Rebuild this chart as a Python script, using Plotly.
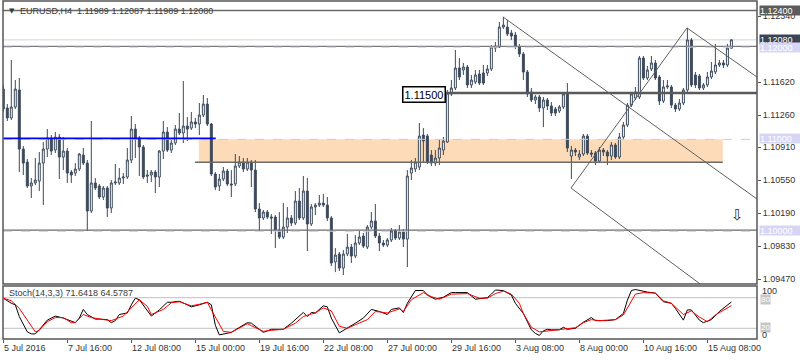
import plotly.graph_objects as go

# ---------------- data ----------------
title_text = "EURUSD,H4  1.11989 1.12087 1.11989 1.12080"
stoch_label = "Stoch(14,3,3) 71.6418 64.5787"

opens = [1.11544, 1.11337, 1.11228, 1.11348, 1.11533, 1.10889, 1.10747, 1.10486, 1.10519, 1.10540,
         1.10736, 1.10889, 1.11009, 1.10878, 1.11020, 1.10802, 1.10867, 1.10638, 1.10627, 1.10671,
         1.10824, 1.10736, 1.10213, 1.10519, 1.10486, 1.10366, 1.10464, 1.10246, 1.10519, 1.10519,
         1.10573, 1.10584, 1.10769, 1.11107, 1.11009, 1.10911, 1.10606, 1.10606, 1.10638, 1.10584,
         1.10867, 1.11075, 1.10878, 1.10955, 1.11107, 1.11064, 1.11140, 1.11118, 1.11184, 1.11162,
         1.11260, 1.11380, 1.11162, 1.10617, 1.10486, 1.10562, 1.10649, 1.10508, 1.10508, 1.10704,
         1.10747, 1.10671, 1.10747, 1.10660, 1.10235, 1.10137, 1.10202, 1.10148, 1.10148, 1.10006,
         1.09929, 1.10038, 1.10137, 1.10082, 1.10322, 1.10137, 1.10431, 1.10071, 1.10257, 1.10278,
         1.10300, 1.10278, 1.10137, 1.09657, 1.09744, 1.09591, 1.09744, 1.09820, 1.09722, 1.09864,
         1.09940, 1.09820, 1.10038, 1.10104, 1.09940, 1.09864, 1.09842, 1.09897, 1.09995, 1.09918,
         1.09984, 1.09907, 1.10627, 1.10671, 1.10693, 1.11042, 1.11031, 1.10824, 1.10736, 1.10791,
         1.10878, 1.10966, 1.11490, 1.11555, 1.11773, 1.11751, 1.11784, 1.11588, 1.11620, 1.11708,
         1.11719, 1.11719, 1.11762, 1.11991, 1.12002, 1.12220, 1.12220, 1.12155, 1.12133, 1.12002,
         1.11926, 1.11730, 1.11511, 1.11424, 1.11457, 1.11337, 1.11424, 1.11359, 1.11326, 1.11304,
         1.11348, 1.11500, 1.10813, 1.10878, 1.10802, 1.10835, 1.11031, 1.10846, 1.10846, 1.10758,
         1.10878, 1.10857, 1.10813, 1.10933, 1.10802, 1.11020, 1.11151, 1.11369, 1.11446, 1.11457,
         1.11882, 1.11664, 1.11762, 1.11828, 1.11675, 1.11413, 1.11566, 1.11566, 1.11369, 1.11326,
         1.11391, 1.11533, 1.12079, 1.11697, 1.11686, 1.11555, 1.11588, 1.11675, 1.11730, 1.11806,
         1.11828, 1.11806, 1.11989]

highs = [1.11588, 1.11380, 1.11860, 1.11642, 1.11664, 1.10922, 1.10780, 1.10573, 1.10791, 1.10857,
         1.10966, 1.11107, 1.11042, 1.11075, 1.11053, 1.11020, 1.10900, 1.10660, 1.10736, 1.10846,
         1.10900, 1.10769, 1.11195, 1.10573, 1.10508, 1.10486, 1.10486, 1.10551, 1.10726, 1.10682,
         1.10627, 1.10900, 1.11249, 1.11162, 1.11031, 1.10933, 1.10660, 1.10660, 1.10660, 1.10878,
         1.11195, 1.11129, 1.10987, 1.11151, 1.11282, 1.11631, 1.11238, 1.11293, 1.11228, 1.11391,
         1.11479, 1.11446, 1.11173, 1.10638, 1.10617, 1.10693, 1.10671, 1.10660, 1.10835, 1.10813,
         1.10791, 1.10791, 1.10769, 1.10769, 1.10300, 1.10224, 1.10224, 1.10180, 1.10169, 1.10202,
         1.10300, 1.10257, 1.10169, 1.10431, 1.10464, 1.10595, 1.10573, 1.10289, 1.10300, 1.10388,
         1.10398, 1.10366, 1.10158, 1.09809, 1.09766, 1.09788, 1.09962, 1.09853, 1.09951, 1.09995,
         1.09973, 1.10060, 1.10202, 1.10289, 1.09973, 1.09897, 1.09918, 1.10027, 1.10017, 1.10060,
         1.10017, 1.10660, 1.10769, 1.10791, 1.11173, 1.11118, 1.11053, 1.10878, 1.10878, 1.10987,
         1.11020, 1.11533, 1.11642, 1.11970, 1.11882, 1.11828, 1.11806, 1.11697, 1.11751, 1.11751,
         1.11806, 1.11806, 1.12024, 1.12057, 1.12275, 1.12330, 1.12297, 1.12188, 1.12166, 1.12035,
         1.11948, 1.11751, 1.11555, 1.11479, 1.11479, 1.11457, 1.11446, 1.11402, 1.11348, 1.11369,
         1.11511, 1.11609, 1.10922, 1.10900, 1.10878, 1.11053, 1.11053, 1.10878, 1.10867, 1.10911,
         1.10900, 1.10878, 1.10966, 1.10955, 1.11064, 1.11184, 1.11391, 1.11511, 1.11566, 1.11904,
         1.11904, 1.11795, 1.11904, 1.11860, 1.11697, 1.11642, 1.11642, 1.11588, 1.11391, 1.11435,
         1.11555, 1.12210, 1.12100, 1.11730, 1.11708, 1.11609, 1.11730, 1.11839, 1.12035, 1.11860,
         1.11860, 1.12035, 1.12087]

lows = [1.11293, 1.11195, 1.11206, 1.11326, 1.10638, 1.10606, 1.10464, 1.10355, 1.10497, 1.10431,
        1.10278, 1.10802, 1.10824, 1.10846, 1.10562, 1.10660, 1.10519, 1.10519, 1.10595, 1.10649,
        1.10715, 1.09995, 1.10191, 1.10442, 1.10344, 1.10333, 1.10148, 1.10191, 1.10497, 1.10497,
        1.10508, 1.10562, 1.10736, 1.10791, 1.10595, 1.10562, 1.10519, 1.10529, 1.10409, 1.10475,
        1.10780, 1.10857, 1.10846, 1.10933, 1.11042, 1.10955, 1.10977, 1.11097, 1.11118, 1.11042,
        1.11238, 1.11140, 1.10595, 1.10442, 1.10431, 1.10540, 1.10486, 1.10366, 1.10486, 1.10682,
        1.10638, 1.10649, 1.10475, 1.10202, 1.09995, 1.10115, 1.10126, 1.09962, 1.09809, 1.09907,
        1.09907, 1.09973, 1.10049, 1.10060, 1.10115, 1.10115, 1.09777, 1.10049, 1.10169, 1.10257,
        1.10257, 1.10104, 1.09613, 1.09547, 1.09558, 1.09515, 1.09722, 1.09646, 1.09700, 1.09842,
        1.09809, 1.09798, 1.10017, 1.09918, 1.09777, 1.09820, 1.09820, 1.09875, 1.09897, 1.09897,
        1.09820, 1.09602, 1.10551, 1.10638, 1.10660, 1.10747, 1.10726, 1.10704, 1.10704, 1.10715,
        1.10824, 1.10955, 1.11468, 1.11533, 1.11642, 1.11697, 1.11555, 1.11555, 1.11599, 1.11588,
        1.11588, 1.11686, 1.11740, 1.11948, 1.11991, 1.12199, 1.12122, 1.12079, 1.11980, 1.11893,
        1.11642, 1.11457, 1.11402, 1.11380, 1.11293, 1.11129, 1.11315, 1.11249, 1.11249, 1.11282,
        1.11326, 1.10857, 1.10562, 1.10813, 1.10769, 1.10813, 1.10824, 1.10802, 1.10715, 1.10736,
        1.10813, 1.10715, 1.10769, 1.10780, 1.10780, 1.10998, 1.11129, 1.11348, 1.11424, 1.11435,
        1.11642, 1.11642, 1.11740, 1.11642, 1.11369, 1.11391, 1.11544, 1.11337, 1.11293, 1.11304,
        1.11369, 1.11511, 1.11566, 1.11555, 1.11533, 1.11533, 1.11566, 1.11653, 1.11708, 1.11784,
        1.11773, 1.11784, 1.11989]

closes = [1.11326, 1.11228, 1.11348, 1.11544, 1.10889, 1.10736, 1.10486, 1.10519, 1.10551, 1.10736,
          1.10889, 1.11009, 1.10867, 1.11020, 1.10802, 1.10867, 1.10627, 1.10606, 1.10671, 1.10835,
          1.10736, 1.10213, 1.10519, 1.10464, 1.10366, 1.10464, 1.10246, 1.10519, 1.10529, 1.10573,
          1.10584, 1.10769, 1.11107, 1.11009, 1.10911, 1.10584, 1.10595, 1.10638, 1.10584, 1.10867,
          1.11075, 1.10878, 1.10955, 1.11107, 1.11064, 1.11140, 1.11107, 1.11184, 1.11162, 1.11260,
          1.11380, 1.11162, 1.10617, 1.10475, 1.10562, 1.10649, 1.10508, 1.10497, 1.10704, 1.10747,
          1.10671, 1.10747, 1.10660, 1.10235, 1.10137, 1.10202, 1.10148, 1.10137, 1.10006, 1.09929,
          1.10038, 1.10137, 1.10082, 1.10322, 1.10137, 1.10431, 1.10071, 1.10257, 1.10278, 1.10300,
          1.10278, 1.10137, 1.09646, 1.09733, 1.09591, 1.09744, 1.09820, 1.09722, 1.09864, 1.09929,
          1.09831, 1.10038, 1.10104, 1.09940, 1.09864, 1.09842, 1.09897, 1.09995, 1.09918, 1.09984,
          1.09907, 1.10595, 1.10682, 1.10747, 1.11031, 1.10977, 1.10747, 1.10736, 1.10791, 1.10900,
          1.10977, 1.11500, 1.11555, 1.11773, 1.11675, 1.11784, 1.11588, 1.11642, 1.11697, 1.11609,
          1.11609, 1.11762, 1.12002, 1.12013, 1.12220, 1.12242, 1.12144, 1.12122, 1.12002, 1.11926,
          1.11730, 1.11490, 1.11424, 1.11457, 1.11337, 1.11424, 1.11359, 1.11282, 1.11282, 1.11348,
          1.11490, 1.10900, 1.10878, 1.10857, 1.10835, 1.11031, 1.10846, 1.10835, 1.10758, 1.10878,
          1.10857, 1.10813, 1.10933, 1.10802, 1.11020, 1.11151, 1.11369, 1.11490, 1.11511, 1.11882,
          1.11664, 1.11751, 1.11828, 1.11664, 1.11413, 1.11566, 1.11577, 1.11369, 1.11326, 1.11391,
          1.11533, 1.12079, 1.11588, 1.11588, 1.11555, 1.11588, 1.11675, 1.11740, 1.11806, 1.11828,
          1.11806, 1.11991, 1.12080]

# stochastic %K (main, black) vertices: bar index -> value
stoch_k_bar = [0, 2, 3, 4, 6, 7, 8, 9, 11, 13, 15, 17, 18, 19, 20, 21, 23, 24, 26, 27, 28, 29, 31, 32, 33, 34,
               36, 37, 39, 41, 42, 44, 46, 47, 49, 51, 52, 53, 54, 57, 58, 61, 62, 64, 65, 67, 70, 72, 75, 76,
               77, 78, 80, 81, 82, 84, 86, 88, 90, 92, 94, 96, 97, 99, 100, 101, 103, 105, 106, 108, 110, 112,
               113, 116, 118, 121, 122, 123, 125, 127, 128, 130, 132, 133, 134, 135, 136, 137, 139, 140, 141,
               143, 145, 147, 148, 151, 153, 155, 156, 157, 158, 160, 161, 163, 165, 167, 168, 170, 171, 172,
               174, 175, 177, 179, 180, 182]
stoch_k_val = [79, 69, 66, 43, 13, 9, 9, 17, 36, 44, 40, 33, 31, 40, 57, 47, 38, 38, 37, 31, 35, 47, 50, 66, 79,
               76, 56, 44, 56, 71, 71, 73, 66, 62, 66, 71, 66, 26, 7, 12, 17, 31, 30, 17, 12, 18, 18, 30, 51, 43,
               51, 50, 64, 62, 40, 11, 20, 30, 40, 57, 53, 47, 57, 60, 51, 69, 94, 94, 85, 77, 81, 90, 90, 90,
               77, 80, 87, 95, 94, 85, 69, 49, 17, 10, 6, 15, 18, 17, 17, 22, 18, 20, 32, 41, 35, 35, 37, 49,
               75, 94, 96, 92, 91, 89, 72, 69, 59, 36, 56, 56, 36, 31, 37, 53, 59, 71.6]

# stochastic %D (signal, red) vertices
stoch_d_bar = [0, 2, 4, 6, 8, 9, 11, 13, 15, 17, 18, 20, 22, 25, 27, 30, 32, 34, 36, 37, 40, 42, 44, 47, 49,
               51, 52, 55, 57, 59, 61, 62, 65, 67, 70, 73, 75, 77, 78, 80, 82, 84, 86, 88, 91, 93, 96, 99, 100,
               102, 105, 107, 109, 112, 116, 119, 121, 123, 125, 127, 129, 130, 132, 134, 136, 139, 141, 143,
               145, 147, 149, 153, 155, 157, 158, 160, 163, 165, 167, 170, 172, 174, 176, 178, 182]
stoch_d_val = [79, 74, 59, 36, 13, 16, 33, 41, 41, 31, 31, 47, 41, 37, 35, 44, 59, 76, 63, 47, 57, 70, 72, 64,
               67, 71, 56, 14, 12, 20, 29, 25, 14, 16, 18, 30, 43, 48, 50, 60, 54, 24, 20, 27, 37, 53, 50, 58,
               53, 76, 90, 82, 77, 87, 88, 79, 79, 88, 93, 87, 69, 49, 22, 13, 15, 17, 19, 21, 31, 37, 35, 37,
               46, 72, 87, 90, 89, 74, 69, 47, 54, 42, 33, 46, 64.6]

price_ticks = [1.12340, 1.11620, 1.11260, 1.10910, 1.10550, 1.10190, 1.09830, 1.09470]
date_labels = ["5 Jul 2016", "7 Jul 16:00", "12 Jul 08:00", "15 Jul 00:00", "19 Jul 16:00",
               "22 Jul 08:00", "27 Jul 00:00", "29 Jul 16:00", "3 Aug 08:00", "8 Aug 00:00",
               "10 Aug 16:00", "15 Aug 08:00"]
date_label_bars = [0, 16, 32, 48, 64, 80, 96, 112, 128, 144, 160, 176]

# drawn levels and objects (prices)
level_1124 = 1.12400
level_1120_line = 1.12010
level_1120_alert = 1.12000
current_price = 1.12080
level_1115 = 1.11500
level_1115_start_bar = 110.6
blue_level = 1.11005
blue_end_bar = 53.1
level_1110_alert = 1.10995
zone_top = 1.10995
zone_bottom = 1.10745
zone_start_bar = 48.9
zone_line_start_bar = 47.9
zone_end_bar = 179.85
level_1100_line = 1.10005
level_1100_alert = 1.09992
trend_a = [(124.9, 1.12330), (188.4, 1.10344)]
trend_b = [(141.9, 1.10464), (170.9, 1.12210)]
trend_c = [(170.9, 1.12210), (188.4, 1.11675)]
trend_d = [(141.9, 1.10464), (174.2, 1.09417)]
arrow_pos = (183.4, 1.10175)
stoch_levels = [80, 20]

# ---------------- figure ----------------
FONT = "Liberation Sans, Arial, sans-serif"
CANDLE = "#3d4a5b"
H_TOP, H_BOT = 1, 339  # pixel rows of plot area
TOTAL = H_BOT - H_TOP


def py(pix):
    return (H_BOT - pix) / TOTAL


bars = list(range(len(closes)))

fig = go.Figure()
fig.add_trace(go.Candlestick(
    x=bars, open=opens, high=highs, low=lows, close=closes,
    xaxis="x", yaxis="y",
    increasing=dict(line=dict(color=CANDLE, width=1), fillcolor="white"),
    decreasing=dict(line=dict(color=CANDLE, width=1), fillcolor=CANDLE),
    whiskerwidth=0, hoverinfo="skip", showlegend=False,
))
fig.add_trace(go.Scatter(x=stoch_k_bar, y=stoch_k_val, xaxis="x", yaxis="y2", mode="lines",
                         line=dict(color="black", width=1), hoverinfo="skip", showlegend=False))
fig.add_trace(go.Scatter(x=stoch_d_bar, y=stoch_d_val, xaxis="x", yaxis="y2", mode="lines",
                         line=dict(color="#ff0000", width=1), hoverinfo="skip", showlegend=False))

shapes = []
# zone (background)
shapes.append(dict(type="rect", xref="x", yref="y", x0=zone_start_bar, x1=zone_end_bar,
                   y0=zone_bottom, y1=zone_top, fillcolor="#fddbb9", line=dict(width=0), layer="below"))


def hline(y, x0, x1, color, width, dash="solid", xref="x", yref="y", layer="above"):
    shapes.append(dict(type="line", xref=xref, yref=yref, x0=x0, x1=x1, y0=y, y1=y,
                       line=dict(color=color, width=width, dash=dash), layer=layer))


XMIN, XMAX = -0.075, 188.4
hline(current_price, XMIN, XMAX, "#d4d4d4", 1, layer="below")
hline(level_1124, XMIN, XMAX, "#6a6a6a", 1.5)
hline(level_1120_line, XMIN, XMAX, "#7a7a7a", 1.2)
hline(level_1120_alert, XMIN, XMAX, "#c8c8ee", 1, dash="dash")
hline(level_1110_alert, XMIN, XMAX, "#c8c8ee", 1, dash="dash")
hline(blue_level, XMIN, blue_end_bar, "#0000ff", 1.6)
hline(level_1100_line, XMIN, XMAX, "#6a6a6a", 1.3)
hline(level_1100_alert, XMIN, XMAX, "#c8c8ee", 1, dash="dash")
hline(zone_bottom, zone_line_start_bar, zone_end_bar, "#6a6a6a", 1.5)
hline(level_1115, level_1115_start_bar, XMAX, "#5a5a5a", 2.5)

for seg in (trend_a, trend_b, trend_c, trend_d):
    shapes.append(dict(type="line", xref="x", yref="y", x0=seg[0][0], y0=seg[0][1],
                       x1=seg[1][0], y1=seg[1][1], line=dict(color="#606060", width=1)))

for lv in stoch_levels:
    hline(lv, XMIN, XMAX, "#c0c0c0", 1, yref="y2", layer="below")

# panel borders
MAIN_DOM = [py(284), 1.0]
STOCH_DOM = [0.0, py(286)]
shapes.append(dict(type="rect", xref="paper", yref="paper", x0=0, x1=1, y0=MAIN_DOM[0], y1=MAIN_DOM[1],
                   line=dict(color="#555555", width=1.5)))
shapes.append(dict(type="rect", xref="paper", yref="paper", x0=0, x1=1, y0=STOCH_DOM[0], y1=STOCH_DOM[1],
                   line=dict(color="#555555", width=1.5)))

ann = []
# title
ann.append(dict(xref="paper", yref="paper", x=0, y=py(11), xshift=4, xanchor="left", yanchor="middle",
                text="▼", showarrow=False, font=dict(family="DejaVu Sans", size=7, color="#3a3a3a")))
ann.append(dict(xref="paper", yref="paper", x=0, y=py(11), xshift=15, xanchor="left", yanchor="middle",
                text=title_text, showarrow=False, font=dict(family=FONT, size=9, color="#3a3a3a")))
ann.append(dict(xref="paper", yref="paper", x=0, y=py(293), xshift=4, xanchor="left", yanchor="middle",
                text=stoch_label, showarrow=False, font=dict(family=FONT, size=9, color="#3a3a3a")))

# right-side price boxes
box_specs = [(level_1124, "#5c5c5c"), (current_price, "#3a4452"), (level_1120_alert, "#d6d6f4"),
             (1.11000, "#d6d6f4"), (1.10000, "#d6d6f4")]
for val, bg in box_specs:
    ann.append(dict(xref="paper", yref="y", x=1, y=val, xshift=2, xanchor="left", yanchor="middle",
                    text=f"{val:.5f}", showarrow=False, bgcolor=bg, width=41, height=9, align="left",
                    borderpad=0, font=dict(family=FONT, size=9, color="white")))

# 1.11500 label
ann.append(dict(xref="x", yref="y", x=level_1115_start_bar, y=level_1115, xanchor="right", yanchor="middle",
                yshift=-1, text="1.11500", showarrow=False, bgcolor="white", bordercolor="black",
                borderwidth=1.5, borderpad=1, font=dict(family=FONT, size=11, color="black")))

# arrow symbol
ann.append(dict(xref="x", yref="y", x=arrow_pos[0], y=arrow_pos[1], text="⇩", showarrow=False,
                font=dict(family="DejaVu Sans", size=15, color="#2a2a2a")))

# stoch scale labels
ann.append(dict(xref="paper", yref="paper", x=1, y=py(291), xshift=3, xanchor="left", yanchor="middle",
                text="100", showarrow=False, font=dict(family=FONT, size=9, color="#333333")))
for val, pix in ((80, 299), (20, 327.5)):
    ann.append(dict(xref="paper", yref="paper", x=1, y=py(pix), xshift=3, xanchor="left", yanchor="middle",
                    text=str(val), showarrow=False, bgcolor="#c6c6c6", borderpad=0,
                    font=dict(family=FONT, size=8, color="white")))
ann.append(dict(xref="paper", yref="paper", x=1, y=py(334.5), xshift=3, xanchor="left", yanchor="middle",
                text="0", showarrow=False, font=dict(family=FONT, size=9, color="#333333")))

# date labels
for b, t in zip(date_label_bars, date_labels):
    ann.append(dict(xref="x", yref="paper", x=b, y=py(348), xshift=-1, xanchor="left", yanchor="middle",
                    text=t, showarrow=False, font=dict(family=FONT, size=9, color="#333333")))

fig.update_layout(
    width=800, height=360,
    margin=dict(l=3, r=43, t=H_TOP, b=360 - H_BOT, pad=0),
    paper_bgcolor="white", plot_bgcolor="white", showlegend=False,
    font=dict(family=FONT, size=9, color="#333333"),
    xaxis=dict(domain=[0, 1], range=[XMIN, XMAX], anchor="y2", showgrid=False, zeroline=False,
               tickvals=date_label_bars, ticktext=[""] * len(date_label_bars), ticks="outside", ticklen=3,
               tickcolor="#555555", showticklabels=False, rangeslider=dict(visible=False), fixedrange=True),
    yaxis=dict(domain=MAIN_DOM, range=[1.09417, 1.12504], side="right", anchor="x", showgrid=False,
               zeroline=False, tickvals=price_ticks, ticktext=[f"{v:.5f}" for v in price_ticks],
               ticks="outside", ticklen=3, tickcolor="#555555",
               tickfont=dict(family=FONT, size=9, color="#333333")),
    yaxis2=dict(domain=STOCH_DOM, range=[-1.0, 102.9], anchor="x", showgrid=False, zeroline=False,
                showticklabels=False, ticks=""),
    shapes=shapes, annotations=ann,
)

fig.write_html("out.html", config={"displayModeBar": False},
               post_script="document.body.style.margin='0';document.body.style.overflow='hidden';")
